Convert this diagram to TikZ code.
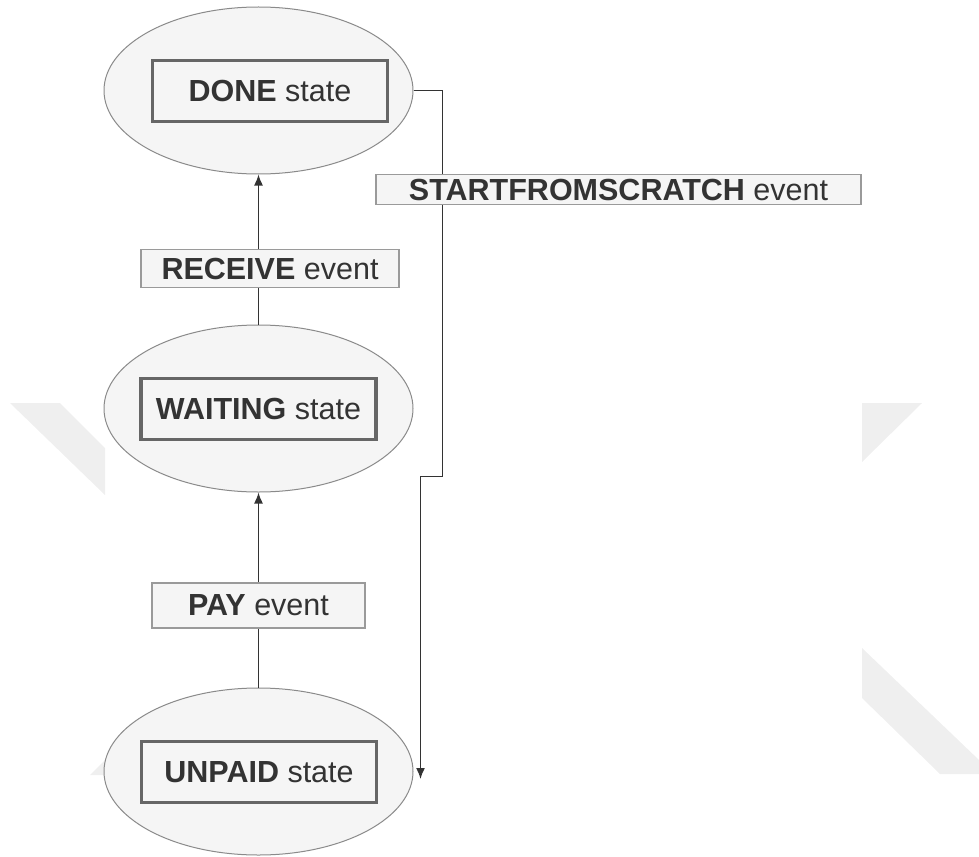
\documentclass[tikz,border=0pt]{standalone}
\usepackage{fontspec}
\setmainfont{Liberation Sans}
\usetikzlibrary{shapes.geometric,arrows.meta}
\definecolor{txt}{HTML}{333333}
\definecolor{efill}{HTML}{F5F5F5}
\definecolor{edraw}{HTML}{8A8A8A}
\definecolor{rdraw}{HTML}{666666}
\definecolor{ldraw}{HTML}{9A9A9A}
\definecolor{wm}{HTML}{EFEFEF}
\definecolor{conn}{HTML}{333333}
\tikzset{
  statebg/.style={ellipse, fill=efill, draw=edraw, line width=1pt, minimum width=309pt, minimum height=167pt, inner sep=0pt},
  staterect/.style={rectangle, draw=rdraw, line width=3.8pt, fill=efill, minimum width=235pt, minimum height=61pt, inner sep=0pt, text=txt, font=\fontsize{30.5}{36}\selectfont},
  evlabel/.style={rectangle, draw=ldraw, line width=1.2pt, fill=efill, inner sep=0pt, text=txt, font=\fontsize{30.5}{36}\selectfont},
  conline/.style={draw=conn, line width=1.5pt},
  arr/.style={conline, -{Latex[length=11pt,width=9pt]}}
}
\begin{document}
\begin{tikzpicture}[x=1pt,y=-1pt]
\useasboundingbox (0,0) rectangle (979,856);
% watermark
\fill[wm] (10,403) -- (60,403) -- (105,448) -- (105,495) -- cycle;
\fill[wm] (90,775) -- (105,760) -- (105,775) -- cycle;
\fill[wm] (862,403) -- (922,403) -- (862,462) -- cycle;
\fill[wm] (862,648) -- (979,760) -- (979,774) -- (940,774) -- (862,698) -- cycle;
% states
\node[statebg] (done) at (258.5,90.5) {};
\node[staterect] (donebox) at (270,91) {\textbf{DONE} state};
\node[statebg] (waiting) at (258.5,408.5) {};
\node[staterect] (waitbox) at (258.5,409) {\textbf{WAITING} state};
\node[statebg] (unpaid) at (258.5,771.5) {};
\node[staterect] (unpaidbox) at (259,772) {\textbf{UNPAID} state};
% connectors
\draw[arr] (unpaid.north) -- (waiting.south);
\draw[arr] (waiting.north) -- (done.south);
\coordinate (c1) at (442.5,90.5);
\coordinate (c2) at (442.5,476.5);
\coordinate (c3) at (420.5,476.5);
\coordinate (c4) at (420.5,779);
\draw[arr] (done.east) -- (c1) -- (c2) -- (c3) -- (c4);
% event labels
\node[evlabel, minimum width=258pt, minimum height=38pt] (recv) at (270,268.5) {\textbf{RECEIVE} event};
\node[evlabel, minimum width=213pt, minimum height=45pt] (pay) at (258.5,605.5) {\textbf{PAY} event};
\node[evlabel, minimum width=485pt, minimum height=30pt] (sfs) at (618.5,189.5) {\textbf{STARTFROMSCRATCH} event};
\end{tikzpicture}
\end{document}
